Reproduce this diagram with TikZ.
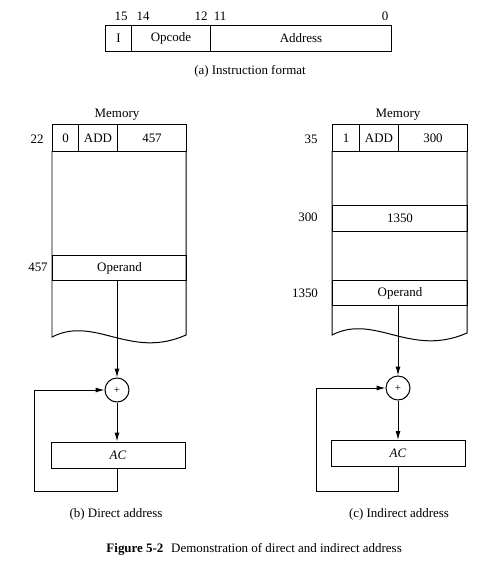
\documentclass[tikz,border=0pt]{standalone}
\usepackage{fontspec}
\setmainfont{Liberation Serif}
\usetikzlibrary{arrows.meta}
\begin{document}
\begin{tikzpicture}[x=1bp,y=-1bp,
  line width=1pt,
  font=\fontsize{13}{15}\selectfont,
  cell/.style={draw,inner sep=0pt,anchor=north west},
  lbl/.style={inner sep=0pt},
  adder/.style={draw,circle,minimum size=24bp,inner sep=0pt,font=\fontsize{11}{12}\selectfont},
  acbox/.style={draw,minimum width=134bp,minimum height=26bp,inner sep=0pt,font=\fontsize{13}{15}\selectfont\itshape},
  flow/.style={-{Latex[length=9bp,width=5bp]}}
]
\useasboundingbox (0,0) rectangle (497,574);

% ---------- (a) instruction format ----------
\node[cell,minimum width=26bp,minimum height=26bp] (fI) at (105,25) {I};
\node[cell,minimum width=79bp,minimum height=26bp] (fop) at (131,25) {Opcode};
\node[cell,minimum width=181bp,minimum height=26bp] (fad) at (210,25) {Address};
\node[lbl] (b15) at (121,16) {15};
\node[lbl] (b14) at (143,16) {14};
\node[lbl] (b12) at (201,16) {12};
\node[lbl] (b11) at (220,16) {11};
\node[lbl] (b0)  at (385,16) {0};
\node[lbl] (capa) at (250,71) {(a) Instruction format};

% ---------- (b) direct address ----------
\node[lbl] (memL) at (117,115) {Memory};
\draw (52,151) -- (52,337) .. controls (95,315) and (130,360) .. (186,335) -- (186,151);
\node[cell,minimum width=26bp,minimum height=27bp] (l0)   at (52,124) {0};
\node[cell,minimum width=39bp,minimum height=27bp] (ladd) at (78,124) {ADD};
\node[cell,minimum width=69bp,minimum height=27bp] (l457) at (117,124) {457};
\node[cell,minimum width=134bp,minimum height=25bp] (lop) at (52,255) {Operand};
\node[lbl] (a22)  at (37,139) {22};
\node[lbl] (a457) at (38,267) {457};

\node[adder] (plusL) at (117,390) {+};
\node[acbox] (acL) at (118,455) {AC};
\coordinate (fbL) at (34,491);
\draw[flow] (lop.south -| plusL) -- (plusL);
\draw[flow] (plusL) -- (plusL |- acL.north);
\draw[flow] (acL.south -| plusL) |- (fbL) |- (plusL.west);
\node[lbl] (capb) at (116,514) {(b) Direct address};

% ---------- (c) indirect address ----------
\node[lbl] (memR) at (398,115) {Memory};
\draw (332,151) -- (332,335) .. controls (375,313) and (410,358) .. (467,333) -- (467,151);
\node[cell,minimum width=27bp,minimum height=27bp] (r1)   at (332,124) {1};
\node[cell,minimum width=39bp,minimum height=27bp] (radd) at (359,124) {ADD};
\node[cell,minimum width=69bp,minimum height=27bp] (r300) at (398,124) {300};
\node[cell,minimum width=135bp,minimum height=26bp] (r1350) at (332,205) {1350};
\node[cell,minimum width=135bp,minimum height=25bp] (rop) at (332,280) {Operand};
\node[lbl] (a35)   at (311,139) {35};
\node[lbl] (a300)  at (308,217) {300};
\node[lbl] (a1350) at (305,293) {1350};

\node[adder] (plusR) at (398,388) {+};
\node[acbox] (acR) at (398,453.5) {AC};
\coordinate (fbR) at (316,491);
\draw[flow] (rop.south -| plusR) -- (plusR);
\draw[flow] (plusR) -- (plusR |- acR.north);
\draw[flow] (acR.south -| plusR) |- (fbR) |- (plusR.west);
\node[lbl] (capc) at (399,514) {(c) Indirect address};

% ---------- figure caption ----------
\node[lbl,anchor=west] (figcap) at (106,549) {\textbf{Figure 5-2}\hspace{0.6em}Demonstration of direct and indirect address};
\end{tikzpicture}
\end{document}
